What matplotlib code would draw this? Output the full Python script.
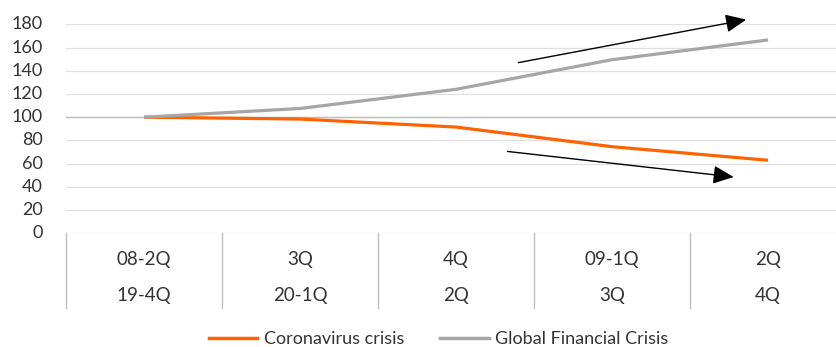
import matplotlib
matplotlib.use("Agg")
import matplotlib.pyplot as plt
from matplotlib.lines import Line2D

categories_top = ["08-2Q", "3Q", "4Q", "09-1Q", "2Q"]
categories_bottom = ["19-4Q", "20-1Q", "2Q", "3Q", "4Q"]
corona = [100, 98.4, 91.5, 74.6, 62.9]
gfc = [100, 107.5, 124, 149.5, 166.5]
yticks = [0, 20, 40, 60, 80, 100, 120, 140, 160, 180]
# trend arrows (start, end) in data coords
arrow_up = [(2.40, 147), (3.86, 184)]
arrow_down = [(2.33, 70.5), (3.78, 48.5)]

ORANGE = "#FF6200"
GRAY = "#A6A6A6"
TEXT = "#333333"

plt.rcParams['font.family'] = ['Lato', 'DejaVu Sans']

fig = plt.figure(figsize=(8.37, 3.47), dpi=100)
W, H = 837, 347
left, right_px, top_px, bot_px = 66, 846, 24.3, 233.3
ax = fig.add_axes([left / W, 1 - bot_px / H, (right_px - left) / W, (bot_px - top_px) / H])

x = list(range(len(categories_top)))
ax.plot(x, corona, color=ORANGE, lw=2.3, solid_capstyle='butt', zorder=3)
ax.plot(x, gfc, color=GRAY, lw=2.3, solid_capstyle='butt', zorder=3)

ax.set_xlim(-0.5, len(x) - 0.5)
ax.set_ylim(0, 180)
ax.set_yticks(yticks)
ax.set_yticklabels([])
ax.tick_params(axis='y', length=0)
ytrans = ax.get_yaxis_transform()
for v in yticks:
    ax.text(-23 / (right_px - left), v, str(v), transform=ytrans, ha='right', va='center',
            fontsize=13, color=TEXT)
ax.set_xticks([])
for s in ax.spines.values():
    s.set_visible(False)
ax.grid(axis='y', color="#E0E0E0", lw=0.9)
ax.set_axisbelow(True)
ax.axhline(100, color="#BDBDBD", lw=1.0, zorder=1)

# category table
trans = ax.get_xaxis_transform()
for b in [i - 0.5 for i in range(len(x) + 1)]:
    ax.plot([b, b], [0, -0.357], transform=trans, color="#BFBFBF", lw=1.0, clip_on=False)
for i in x:
    ax.text(i, -0.123, categories_top[i], transform=trans, ha='center', va='center',
            fontsize=13.5, color=TEXT)
    ax.text(i, -0.30, categories_bottom[i], transform=trans, ha='center', va='center',
            fontsize=13.5, color=TEXT)

for (s, e) in [arrow_up, arrow_down]:
    ax.annotate("", xy=e, xytext=s, annotation_clip=False,
                arrowprops=dict(arrowstyle='-|>,head_length=0.9,head_width=0.4', color='black',
                                lw=1.0, shrinkA=0, shrinkB=0, mutation_scale=14, clip_on=False))

handles = [Line2D([], [], color=ORANGE, lw=2.5), Line2D([], [], color=GRAY, lw=2.5)]
fig.legend(handles, ["Coronavirus crisis", "Global Financial Crisis"], loc='center',
           bbox_to_anchor=(0.524, 1 - 339 / H), ncol=2, frameon=False, fontsize=13,
           handlelength=2.7, handletextpad=0.35, columnspacing=2.0, labelcolor=TEXT)

fig.savefig("out.png", dpi=100)
